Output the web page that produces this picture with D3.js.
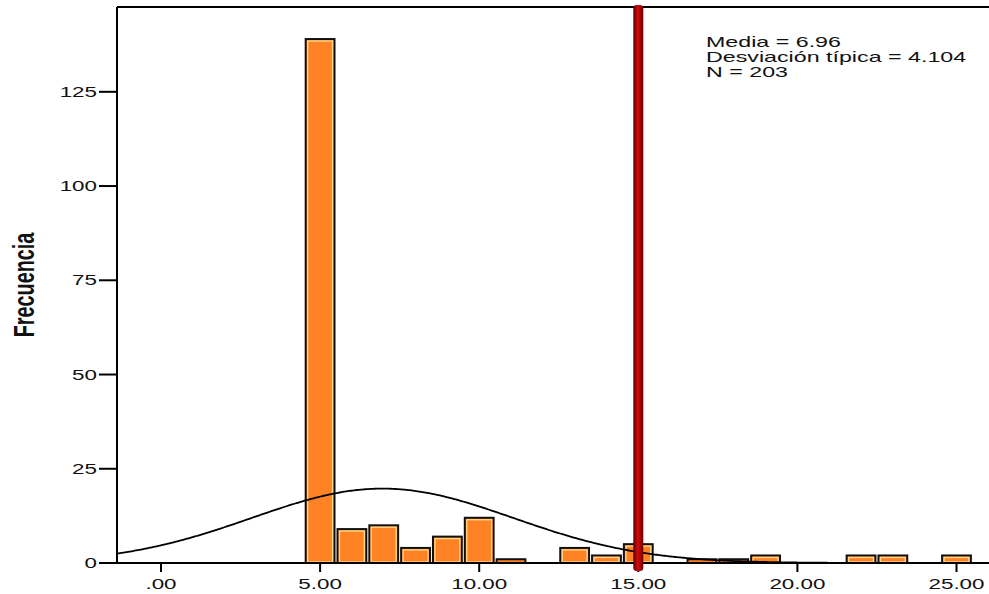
<!DOCTYPE html>
<html>
<head>
<meta charset="utf-8">
<script src="https://cdn.jsdelivr.net/npm/d3@7"></script>
<style>
  html, body { margin: 0; padding: 0; background: #fff; }
  svg { display: block; }
  text { font-family: "Liberation Sans", Arial, sans-serif; fill: #111; }
</style>
</head>
<body>
<div id="chart"></div>
<script>
// histogram bins (centre of bin, width 1) and their frequencies
const binCenters = [5, 6, 7, 8, 9, 10, 11, 13, 14, 15, 17, 18, 19, 22, 23, 25];
const binCounts = [139, 9, 10, 4, 7, 12, 1, 4, 2, 5, 1, 1, 2, 2, 2, 2];
const binWidth = 1;

const xTickValues = [0, 5, 10, 15, 20, 25];
const xTickLabels = ['.00', '5.00', '10.00', '15.00', '20.00', '25.00'];
const yTickValues = [0, 25, 50, 75, 100, 125];

const meanValue = 6.96;
const sdValue = 4.104;
const nValue = 203;
const refLineValue = 15;
const statsLines = ['Media = 6.96', 'Desviación típica = 4.104', 'N = 203'];

const width = 989, height = 594;
const stretch = 1.6; // the picture is stretched horizontally

const svg = d3.select('#chart').append('svg')
    .attr('width', width)
    .attr('height', height);

const defs = svg.append('defs');
const redGrad = defs.append('linearGradient').attr('id', 'redline')
    .attr('x1', '0%').attr('x2', '100%').attr('y1', '0%').attr('y2', '0%');
redGrad.append('stop').attr('offset', '0%').attr('stop-color', '#5a0000');
redGrad.append('stop').attr('offset', '45%').attr('stop-color', '#d40a0a');
redGrad.append('stop').attr('offset', '100%').attr('stop-color', '#6a0000');

const x = d3.scaleLinear().domain([0, 25]).range([161, 956.5]);
const y = d3.scaleLinear().domain([0, 147.5]).range([563, 7]);
const plotLeft = 117, plotTop = 7, plotBottom = 563;

const stretchedText = function (sel, px, py, txt, anchor, size, sx) {
    return sel.append('text')
        .attr('transform', `translate(${px},${py}) scale(${sx || stretch},1)`)
        .attr('text-anchor', anchor)
        .attr('font-size', size)
        .text(txt);
}

// bars
const bars = svg.append('g').attr('class', 'bars');
binCenters.forEach((c, i) => {
    const x0 = x(c - binWidth / 2) + 1.5, x1 = x(c + binWidth / 2) - 1.5;
    const y0 = y(binCounts[i]), y1 = y(0);
    bars.append('rect')
        .attr('x', x0).attr('y', y0)
        .attr('width', x1 - x0).attr('height', y1 - y0)
        .attr('fill', '#ff8224')
        .attr('stroke', '#111')
        .attr('stroke-width', 2);
    // pale inner bevel
    if (y1 - y0 > 4) {
        bars.append('rect')
            .attr('x', x0 + 2).attr('y', y0 + 2)
            .attr('width', Math.max(0, x1 - x0 - 4)).attr('height', Math.max(0, y1 - y0 - 3))
            .attr('fill', 'none')
            .attr('stroke', '#ffd98a')
            .attr('stroke-width', 1.3);
    }
});

// normal curve
const pdf = v => nValue * binWidth / (sdValue * Math.sqrt(2 * Math.PI)) *
    Math.exp(-0.5 * Math.pow((v - meanValue) / sdValue, 2));
const curvePts = d3.range(x.invert(plotLeft), x.invert(width) + 0.05, 0.05).map(v => [v, pdf(v)]);
svg.append('path')
    .datum(curvePts)
    .attr('fill', 'none')
    .attr('stroke', '#000')
    .attr('stroke-width', 1.8)
    .attr('d', d3.line().x(d => x(d[0])).y(d => y(d[1])));

// axes frame
const frame = svg.append('g').attr('stroke', '#000').attr('stroke-width', 2);
frame.append('line').attr('x1', plotLeft).attr('x2', width).attr('y1', plotTop).attr('y2', plotTop);
frame.append('line').attr('x1', plotLeft).attr('x2', plotLeft).attr('y1', plotTop).attr('y2', plotBottom);
frame.append('line').attr('x1', plotLeft).attr('x2', width).attr('y1', plotBottom).attr('y2', plotBottom);

// y ticks
yTickValues.forEach(v => {
    frame.append('line').attr('x1', 99).attr('x2', plotLeft).attr('y1', y(v)).attr('y2', y(v));
    stretchedText(svg, 97, y(v) + 5, String(v), 'end', 14);
});

// x ticks
xTickValues.forEach((v, i) => {
    frame.append('line').attr('x1', x(v)).attr('x2', x(v)).attr('y1', plotBottom).attr('y2', plotBottom + 9);
    stretchedText(svg, x(v), 589, xTickLabels[i], 'middle', 14);
});

// reference line
svg.append('rect')
    .attr('x', x(refLineValue) - 5).attr('y', plotTop - 2)
    .attr('width', 10).attr('height', plotBottom + 10 - plotTop)
    .attr('rx', 3.5)
    .attr('fill', 'url(#redline)');

// y axis title
svg.append('text')
    .attr('transform', `translate(34,285) scale(${stretch},1.1) rotate(-90)`)
    .attr('text-anchor', 'middle')
    .attr('font-size', 18)
    .attr('font-weight', 'bold')
    .text('Frecuencia');

// stats box
statsLines.forEach((t, i) => {
    stretchedText(svg, 706, 47 + i * 15, t, 'start', 14, 1.66);
});
</script>
</body>
</html>
